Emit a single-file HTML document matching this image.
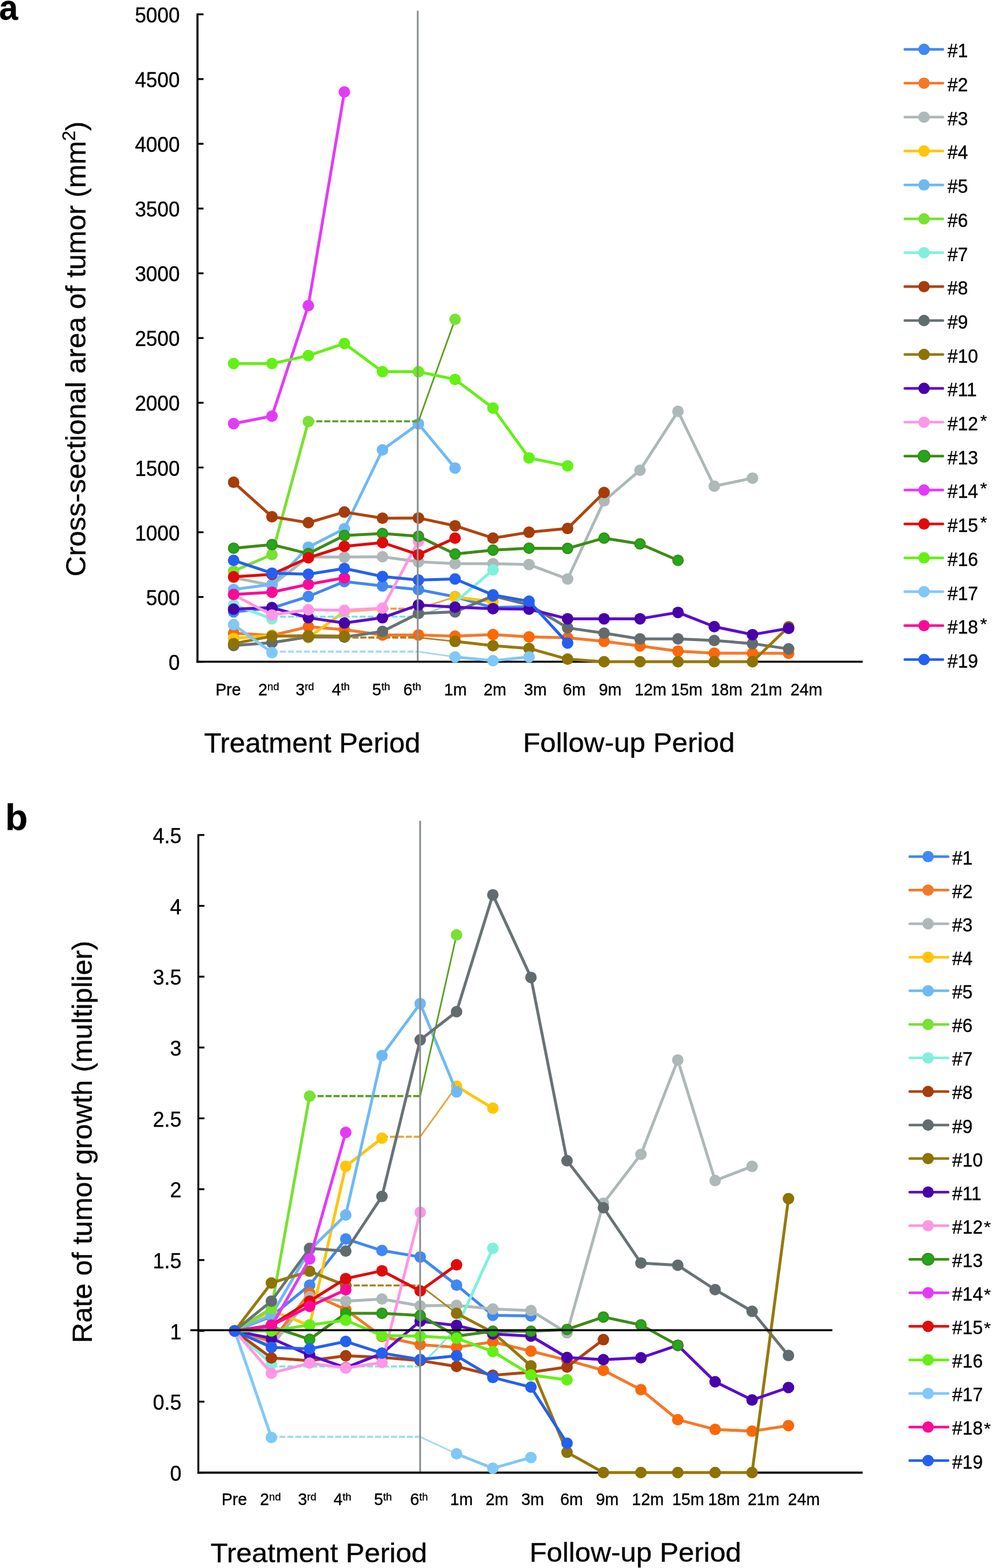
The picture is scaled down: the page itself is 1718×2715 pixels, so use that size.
<!DOCTYPE html><html><head><meta charset="utf-8"><title>Tumor growth charts</title>
<style>html,body{margin:0;padding:0;background:#fff;overflow:hidden;}svg{display:block;}</style></head><body>
<svg width="1718" height="2715" viewBox="0 0 1718 2715" font-family="'Liberation Sans', Arial, Helvetica, sans-serif" fill="#000" stroke-linejoin="round">
<rect width="1718" height="2715" fill="#fff"/>
<text transform="matrix(0.945 0 0 0.994 -1.591 33.806)" font-size="62" font-weight="bold" stroke="#000" stroke-width="0.35">a</text>
<line x1="342" y1="23.2" x2="342" y2="1147.5" stroke="#000" stroke-width="3.5"/>
<line x1="342" y1="1145.8" x2="352.5" y2="1145.8" stroke="#000" stroke-width="3.2"/>
<text transform="matrix(0.997 0 0 1.079 311.297 1159.8)" font-size="35" text-anchor="end" stroke="#000" stroke-width="0.35">0</text>
<line x1="342" y1="1033.7" x2="352.5" y2="1033.7" stroke="#000" stroke-width="3.2"/>
<text transform="matrix(0.997 0 0 1.079 311.297 1047.7)" font-size="35" text-anchor="end" stroke="#000" stroke-width="0.35">500</text>
<line x1="342" y1="921.6" x2="352.5" y2="921.6" stroke="#000" stroke-width="3.2"/>
<text transform="matrix(0.997 0 0 1.079 311.297 935.6)" font-size="35" text-anchor="end" stroke="#000" stroke-width="0.35">1000</text>
<line x1="342" y1="809.5" x2="352.5" y2="809.5" stroke="#000" stroke-width="3.2"/>
<text transform="matrix(0.997 0 0 1.079 311.297 823.5)" font-size="35" text-anchor="end" stroke="#000" stroke-width="0.35">1500</text>
<line x1="342" y1="697.4" x2="352.5" y2="697.4" stroke="#000" stroke-width="3.2"/>
<text transform="matrix(0.997 0 0 1.079 311.297 711.4)" font-size="35" text-anchor="end" stroke="#000" stroke-width="0.35">2000</text>
<line x1="342" y1="585.3" x2="352.5" y2="585.3" stroke="#000" stroke-width="3.2"/>
<text transform="matrix(0.997 0 0 1.079 311.297 599.3)" font-size="35" text-anchor="end" stroke="#000" stroke-width="0.35">2500</text>
<line x1="342" y1="473.2" x2="352.5" y2="473.2" stroke="#000" stroke-width="3.2"/>
<text transform="matrix(0.997 0 0 1.079 311.297 487.2)" font-size="35" text-anchor="end" stroke="#000" stroke-width="0.35">3000</text>
<line x1="342" y1="361.1" x2="352.5" y2="361.1" stroke="#000" stroke-width="3.2"/>
<text transform="matrix(0.997 0 0 1.079 311.297 375.1)" font-size="35" text-anchor="end" stroke="#000" stroke-width="0.35">3500</text>
<line x1="342" y1="249" x2="352.5" y2="249" stroke="#000" stroke-width="3.2"/>
<text transform="matrix(0.997 0 0 1.079 311.297 263)" font-size="35" text-anchor="end" stroke="#000" stroke-width="0.35">4000</text>
<line x1="342" y1="136.9" x2="352.5" y2="136.9" stroke="#000" stroke-width="3.2"/>
<text transform="matrix(0.997 0 0 1.079 311.297 150.9)" font-size="35" text-anchor="end" stroke="#000" stroke-width="0.35">4500</text>
<line x1="342" y1="24.8" x2="352.5" y2="24.8" stroke="#000" stroke-width="3.2"/>
<text transform="matrix(0.997 0 0 1.079 311.297 38.8)" font-size="35" text-anchor="end" stroke="#000" stroke-width="0.35">5000</text>
<line x1="340.3" y1="1145.8" x2="1494" y2="1145.8" stroke="#000" stroke-width="3.5"/>
<g><polyline points="404.6,1059.5 471,1052.8 534,1032.8 596.4,1007 662.4,1014.4 724.7,1020.9 788.1,1033.3 853.8,1052.1 916.2,1050.3" stroke="#4088f2" stroke-width="5.0" fill="none" stroke-linejoin="round"/><circle cx="404.6" cy="1059.5" r="10.0" fill="#4088f2"/><circle cx="471" cy="1052.8" r="10.0" fill="#4088f2"/><circle cx="534" cy="1032.8" r="10.0" fill="#4088f2"/><circle cx="596.4" cy="1007" r="10.0" fill="#4088f2"/><circle cx="662.4" cy="1014.4" r="10.0" fill="#4088f2"/><circle cx="724.7" cy="1020.9" r="10.0" fill="#4088f2"/><circle cx="788.1" cy="1033.3" r="10.0" fill="#4088f2"/><circle cx="853.8" cy="1052.1" r="10.0" fill="#4088f2"/><circle cx="916.2" cy="1050.3" r="10.0" fill="#4088f2"/></g>
<g><polyline points="404.6,1096.3 471,1100.3 534,1085.3 596.4,1090.2 662.4,1099.4 724.7,1099.4 788.1,1101.6 853.8,1098.7 916.2,1102.8 983,1104.3 1046.2,1110.4 1108.4,1118.4 1174.2,1127.4 1237,1131 1303.2,1131 1365.8,1131.2" stroke="#f57828" stroke-width="5.0" fill="none" stroke-linejoin="round"/><circle cx="404.6" cy="1096.3" r="10.0" fill="#fb6808"/><circle cx="471" cy="1100.3" r="10.0" fill="#fb6808"/><circle cx="534" cy="1085.3" r="10.0" fill="#fb6808"/><circle cx="596.4" cy="1090.2" r="10.0" fill="#fb6808"/><circle cx="662.4" cy="1099.4" r="10.0" fill="#fb6808"/><circle cx="724.7" cy="1099.4" r="10.0" fill="#fb6808"/><circle cx="788.1" cy="1101.6" r="10.0" fill="#fb6808"/><circle cx="853.8" cy="1098.7" r="10.0" fill="#fb6808"/><circle cx="916.2" cy="1102.8" r="10.0" fill="#fb6808"/><circle cx="983" cy="1104.3" r="10.0" fill="#fb6808"/><circle cx="1046.2" cy="1110.4" r="10.0" fill="#fb6808"/><circle cx="1108.4" cy="1118.4" r="10.0" fill="#fb6808"/><circle cx="1174.2" cy="1127.4" r="10.0" fill="#fb6808"/><circle cx="1237" cy="1131" r="10.0" fill="#fb6808"/><circle cx="1303.2" cy="1131" r="10.0" fill="#fb6808"/><circle cx="1365.8" cy="1131.2" r="10.0" fill="#fb6808"/></g>
<g><polyline points="404.6,1000.1 471,1013.5 534,964.2 596.4,964.6 662.4,964 724.7,972.7 788.1,975.9 853.8,975.9 916.2,977.6 983,1002.5 1046.2,867.3 1108.4,814.2 1174.2,712.2 1237,841.8 1303.2,827.9" stroke="#aeb8b8" stroke-width="5.0" fill="none" stroke-linejoin="round"/><circle cx="404.6" cy="1000.1" r="10.0" fill="#aeb8b8"/><circle cx="471" cy="1013.5" r="10.0" fill="#aeb8b8"/><circle cx="534" cy="964.2" r="10.0" fill="#aeb8b8"/><circle cx="596.4" cy="964.6" r="10.0" fill="#aeb8b8"/><circle cx="662.4" cy="964" r="10.0" fill="#aeb8b8"/><circle cx="724.7" cy="972.7" r="10.0" fill="#aeb8b8"/><circle cx="788.1" cy="975.9" r="10.0" fill="#aeb8b8"/><circle cx="853.8" cy="975.9" r="10.0" fill="#aeb8b8"/><circle cx="916.2" cy="977.6" r="10.0" fill="#aeb8b8"/><circle cx="983" cy="1002.5" r="10.0" fill="#aeb8b8"/><circle cx="1046.2" cy="867.3" r="10.0" fill="#aeb8b8"/><circle cx="1108.4" cy="814.2" r="10.0" fill="#aeb8b8"/><circle cx="1174.2" cy="712.2" r="10.0" fill="#aeb8b8"/><circle cx="1237" cy="841.8" r="10.0" fill="#aeb8b8"/><circle cx="1303.2" cy="827.9" r="10.0" fill="#aeb8b8"/></g>
<g><line x1="662.4" y1="1053.9" x2="724.7" y2="1053.9" stroke="#f0a030" stroke-width="3.6" stroke-dasharray="10.5 3.3"/><polyline points="724.7,1053.9 788.1,1033.7" stroke="#f0a030" stroke-width="2.8" fill="none"/><polyline points="404.6,1105.4 471,1099.8 534,1104.3 596.4,1058.8 662.4,1053.9" stroke="#ffc50a" stroke-width="5.0" fill="none" stroke-linejoin="round"/><polyline points="788.1,1033.7 853.8,1042" stroke="#ffc50a" stroke-width="5.0" fill="none" stroke-linejoin="round"/><circle cx="404.6" cy="1105.4" r="10.0" fill="#ffc50a"/><circle cx="471" cy="1099.8" r="10.0" fill="#ffc50a"/><circle cx="534" cy="1104.3" r="10.0" fill="#ffc50a"/><circle cx="596.4" cy="1058.8" r="10.0" fill="#ffc50a"/><circle cx="662.4" cy="1053.9" r="10.0" fill="#ffc50a"/><circle cx="788.1" cy="1033.7" r="10.0" fill="#ffc50a"/><circle cx="853.8" cy="1042" r="10.0" fill="#ffc50a"/></g>
<g><polyline points="404.6,1020.7 471,1011.7 534,947.4 596.4,915.5 662.4,779 724.7,733.9 788.1,810.4" stroke="#6eb9f5" stroke-width="5.0" fill="none" stroke-linejoin="round"/><circle cx="404.6" cy="1020.7" r="10.0" fill="#6eb9f5"/><circle cx="471" cy="1011.7" r="10.0" fill="#6eb9f5"/><circle cx="534" cy="947.4" r="10.0" fill="#6eb9f5"/><circle cx="596.4" cy="915.5" r="10.0" fill="#6eb9f5"/><circle cx="662.4" cy="779" r="10.0" fill="#6eb9f5"/><circle cx="724.7" cy="733.9" r="10.0" fill="#6eb9f5"/><circle cx="788.1" cy="810.4" r="10.0" fill="#6eb9f5"/></g>
<g><line x1="534" y1="729.5" x2="724.7" y2="729.5" stroke="#5aa01e" stroke-width="3.6" stroke-dasharray="10.5 3.3"/><polyline points="724.7,729.5 788.1,553" stroke="#5aa01e" stroke-width="2.8" fill="none"/><polyline points="404.6,988.9 471,960.2 534,729.9" stroke="#78e132" stroke-width="5.0" fill="none" stroke-linejoin="round"/><circle cx="404.6" cy="988.9" r="10.0" fill="#78e132"/><circle cx="471" cy="960.2" r="10.0" fill="#78e132"/><circle cx="534" cy="729.9" r="10.0" fill="#78e132"/><circle cx="788.1" cy="553" r="10.0" fill="#78e132"/></g>
<g><line x1="471" y1="1067.8" x2="724.7" y2="1067.8" stroke="#80e6d2" stroke-width="3.6" stroke-dasharray="10.5 3.3"/><polyline points="724.7,1067.8 788.1,1042.9" stroke="#80e6d2" stroke-width="2.8" fill="none"/><polyline points="404.6,1047.2 471,1071.4" stroke="#80f0dc" stroke-width="5.0" fill="none" stroke-linejoin="round"/><polyline points="788.1,1042.9 853.8,986.8" stroke="#80f0dc" stroke-width="5.0" fill="none" stroke-linejoin="round"/><circle cx="404.6" cy="1047.2" r="10.0" fill="#80f0dc"/><circle cx="471" cy="1071.4" r="10.0" fill="#80f0dc"/><circle cx="853.8" cy="986.8" r="10.0" fill="#80f0dc"/></g>
<g><polyline points="404.6,835.1 471,894.7 534,905 596.4,886.6 662.4,897.2 724.7,896.9 788.1,910.4 853.8,931.7 916.2,921.6 983,915.1 1046.2,852.8" stroke="#b0440f" stroke-width="5.0" fill="none" stroke-linejoin="round"/><circle cx="404.6" cy="835.1" r="10.0" fill="#a53c0a"/><circle cx="471" cy="894.7" r="10.0" fill="#a53c0a"/><circle cx="534" cy="905" r="10.0" fill="#a53c0a"/><circle cx="596.4" cy="886.6" r="10.0" fill="#a53c0a"/><circle cx="662.4" cy="897.2" r="10.0" fill="#a53c0a"/><circle cx="724.7" cy="896.9" r="10.0" fill="#a53c0a"/><circle cx="788.1" cy="910.4" r="10.0" fill="#a53c0a"/><circle cx="853.8" cy="931.7" r="10.0" fill="#a53c0a"/><circle cx="916.2" cy="921.6" r="10.0" fill="#a53c0a"/><circle cx="983" cy="915.1" r="10.0" fill="#a53c0a"/><circle cx="1046.2" cy="852.8" r="10.0" fill="#a53c0a"/></g>
<g><polyline points="404.6,1117.8 471,1112.8 534,1102.8 596.4,1103.2 662.4,1093.3 724.7,1062.2 788.1,1059.5 853.8,1031.9 916.2,1047.2 983,1087.1 1046.2,1096.3 1108.4,1106.3 1174.2,1106.3 1237,1109 1303.2,1114.4 1365.8,1123.6" stroke="#697376" stroke-width="5.0" fill="none" stroke-linejoin="round"/><circle cx="404.6" cy="1117.8" r="10.0" fill="#626c6f"/><circle cx="471" cy="1112.8" r="10.0" fill="#626c6f"/><circle cx="534" cy="1102.8" r="10.0" fill="#626c6f"/><circle cx="596.4" cy="1103.2" r="10.0" fill="#626c6f"/><circle cx="662.4" cy="1093.3" r="10.0" fill="#626c6f"/><circle cx="724.7" cy="1062.2" r="10.0" fill="#626c6f"/><circle cx="788.1" cy="1059.5" r="10.0" fill="#626c6f"/><circle cx="853.8" cy="1031.9" r="10.0" fill="#626c6f"/><circle cx="916.2" cy="1047.2" r="10.0" fill="#626c6f"/><circle cx="983" cy="1087.1" r="10.0" fill="#626c6f"/><circle cx="1046.2" cy="1096.3" r="10.0" fill="#626c6f"/><circle cx="1108.4" cy="1106.3" r="10.0" fill="#626c6f"/><circle cx="1174.2" cy="1106.3" r="10.0" fill="#626c6f"/><circle cx="1237" cy="1109" r="10.0" fill="#626c6f"/><circle cx="1303.2" cy="1114.4" r="10.0" fill="#626c6f"/><circle cx="1365.8" cy="1123.6" r="10.0" fill="#626c6f"/></g>
<g><line x1="596.4" y1="1103.9" x2="724.7" y2="1103.9" stroke="#b08020" stroke-width="3.6" stroke-dasharray="10.5 3.3"/><polyline points="724.7,1103.9 788.1,1110.6" stroke="#b08020" stroke-width="2.8" fill="none"/><polyline points="404.6,1114.4 471,1101.6 534,1100.7 596.4,1101.6" stroke="#98780a" stroke-width="5.0" fill="none" stroke-linejoin="round"/><polyline points="788.1,1110.6 853.8,1118 916.2,1122.7 983,1141.3 1046.2,1145.8 1108.4,1145.8 1174.2,1145.8 1237,1145.8 1303.2,1145.8 1365.8,1085.3" stroke="#98780a" stroke-width="5.0" fill="none" stroke-linejoin="round"/><circle cx="404.6" cy="1114.4" r="10.0" fill="#8e7202"/><circle cx="471" cy="1101.6" r="10.0" fill="#8e7202"/><circle cx="534" cy="1100.7" r="10.0" fill="#8e7202"/><circle cx="596.4" cy="1101.6" r="10.0" fill="#8e7202"/><circle cx="788.1" cy="1110.6" r="10.0" fill="#8e7202"/><circle cx="853.8" cy="1118" r="10.0" fill="#8e7202"/><circle cx="916.2" cy="1122.7" r="10.0" fill="#8e7202"/><circle cx="983" cy="1141.3" r="10.0" fill="#8e7202"/><circle cx="1046.2" cy="1145.8" r="10.0" fill="#8e7202"/><circle cx="1108.4" cy="1145.8" r="10.0" fill="#8e7202"/><circle cx="1174.2" cy="1145.8" r="10.0" fill="#8e7202"/><circle cx="1237" cy="1145.8" r="10.0" fill="#8e7202"/><circle cx="1303.2" cy="1145.8" r="10.0" fill="#8e7202"/><circle cx="1365.8" cy="1085.3" r="10.0" fill="#8e7202"/></g>
<g><polyline points="404.6,1054.8 471,1052.1 534,1069.6 596.4,1078.8 662.4,1069.6 724.7,1047.6 788.1,1051.2 853.8,1053.9 916.2,1054.8 983,1071.4 1046.2,1071.4 1108.4,1071.4 1174.2,1060.4 1237,1085 1303.2,1098.9 1365.8,1088" stroke="#5c0ad0" stroke-width="5.0" fill="none" stroke-linejoin="round"/><circle cx="404.6" cy="1054.8" r="10.0" fill="#4800a8"/><circle cx="471" cy="1052.1" r="10.0" fill="#4800a8"/><circle cx="534" cy="1069.6" r="10.0" fill="#4800a8"/><circle cx="596.4" cy="1078.8" r="10.0" fill="#4800a8"/><circle cx="662.4" cy="1069.6" r="10.0" fill="#4800a8"/><circle cx="724.7" cy="1047.6" r="10.0" fill="#4800a8"/><circle cx="788.1" cy="1051.2" r="10.0" fill="#4800a8"/><circle cx="853.8" cy="1053.9" r="10.0" fill="#4800a8"/><circle cx="916.2" cy="1054.8" r="10.0" fill="#4800a8"/><circle cx="983" cy="1071.4" r="10.0" fill="#4800a8"/><circle cx="1046.2" cy="1071.4" r="10.0" fill="#4800a8"/><circle cx="1108.4" cy="1071.4" r="10.0" fill="#4800a8"/><circle cx="1174.2" cy="1060.4" r="10.0" fill="#4800a8"/><circle cx="1237" cy="1085" r="10.0" fill="#4800a8"/><circle cx="1303.2" cy="1098.9" r="10.0" fill="#4800a8"/><circle cx="1365.8" cy="1088" r="10.0" fill="#4800a8"/></g>
<g><polyline points="404.6,1029.9 471,1064.9 534,1055.7 596.4,1056.8 662.4,1053 724.7,937.3" stroke="#ff96e6" stroke-width="5.0" fill="none" stroke-linejoin="round"/><circle cx="404.6" cy="1029.9" r="10.0" fill="#ff96e6"/><circle cx="471" cy="1064.9" r="10.0" fill="#ff96e6"/><circle cx="534" cy="1055.7" r="10.0" fill="#ff96e6"/><circle cx="596.4" cy="1056.8" r="10.0" fill="#ff96e6"/><circle cx="662.4" cy="1053" r="10.0" fill="#ff96e6"/><circle cx="724.7" cy="937.3" r="10.0" fill="#ff96e6"/></g>
<g><polyline points="404.6,949.2 471,943.1 534,958.6 596.4,927.2 662.4,923.8 724.7,928.6 788.1,959.3 853.8,952.5 916.2,949.2 983,949.6 1046.2,931.7 1108.4,941.8 1174.2,970.3" stroke="#3c8c14" stroke-width="5.0" fill="none" stroke-linejoin="round"/><circle cx="404.6" cy="949.2" r="8.8" fill="#22a81c" stroke="#3c8c14" stroke-width="2.4"/><circle cx="471" cy="943.1" r="8.8" fill="#22a81c" stroke="#3c8c14" stroke-width="2.4"/><circle cx="534" cy="958.6" r="8.8" fill="#22a81c" stroke="#3c8c14" stroke-width="2.4"/><circle cx="596.4" cy="927.2" r="8.8" fill="#22a81c" stroke="#3c8c14" stroke-width="2.4"/><circle cx="662.4" cy="923.8" r="8.8" fill="#22a81c" stroke="#3c8c14" stroke-width="2.4"/><circle cx="724.7" cy="928.6" r="8.8" fill="#22a81c" stroke="#3c8c14" stroke-width="2.4"/><circle cx="788.1" cy="959.3" r="8.8" fill="#22a81c" stroke="#3c8c14" stroke-width="2.4"/><circle cx="853.8" cy="952.5" r="8.8" fill="#22a81c" stroke="#3c8c14" stroke-width="2.4"/><circle cx="916.2" cy="949.2" r="8.8" fill="#22a81c" stroke="#3c8c14" stroke-width="2.4"/><circle cx="983" cy="949.6" r="8.8" fill="#22a81c" stroke="#3c8c14" stroke-width="2.4"/><circle cx="1046.2" cy="931.7" r="8.8" fill="#22a81c" stroke="#3c8c14" stroke-width="2.4"/><circle cx="1108.4" cy="941.8" r="8.8" fill="#22a81c" stroke="#3c8c14" stroke-width="2.4"/><circle cx="1174.2" cy="970.3" r="8.8" fill="#22a81c" stroke="#3c8c14" stroke-width="2.4"/></g>
<g><polyline points="404.6,733.5 471,720.5 534,529.2 596.4,159.3" stroke="#e43af8" stroke-width="5.0" fill="none" stroke-linejoin="round"/><circle cx="404.6" cy="733.5" r="10.0" fill="#e43af8"/><circle cx="471" cy="720.5" r="10.0" fill="#e43af8"/><circle cx="534" cy="529.2" r="10.0" fill="#e43af8"/><circle cx="596.4" cy="159.3" r="10.0" fill="#e43af8"/></g>
<g><polyline points="404.6,998.7 471,994.5 534,965.8 596.4,946 662.4,939.5 724.7,960.4 788.1,931.7" stroke="#e00a0a" stroke-width="5.0" fill="none" stroke-linejoin="round"/><circle cx="404.6" cy="998.7" r="10.0" fill="#e00a0a"/><circle cx="471" cy="994.5" r="10.0" fill="#e00a0a"/><circle cx="534" cy="965.8" r="10.0" fill="#e00a0a"/><circle cx="596.4" cy="946" r="10.0" fill="#e00a0a"/><circle cx="662.4" cy="939.5" r="10.0" fill="#e00a0a"/><circle cx="724.7" cy="960.4" r="10.0" fill="#e00a0a"/><circle cx="788.1" cy="931.7" r="10.0" fill="#e00a0a"/></g>
<g><polyline points="404.6,629.5 471,629.5 534,615.8 596.4,594.7 662.4,643.6 724.7,643.6 788.1,657 853.8,706.6 916.2,792.9 983,806.8" stroke="#64f014" stroke-width="5.0" fill="none" stroke-linejoin="round"/><circle cx="404.6" cy="629.5" r="10.0" fill="#64f014"/><circle cx="471" cy="629.5" r="10.0" fill="#64f014"/><circle cx="534" cy="615.8" r="10.0" fill="#64f014"/><circle cx="596.4" cy="594.7" r="10.0" fill="#64f014"/><circle cx="662.4" cy="643.6" r="10.0" fill="#64f014"/><circle cx="724.7" cy="643.6" r="10.0" fill="#64f014"/><circle cx="788.1" cy="657" r="10.0" fill="#64f014"/><circle cx="853.8" cy="706.6" r="10.0" fill="#64f014"/><circle cx="916.2" cy="792.9" r="10.0" fill="#64f014"/><circle cx="983" cy="806.8" r="10.0" fill="#64f014"/></g>
<g><line x1="471" y1="1128.3" x2="724.7" y2="1128.3" stroke="#a8d8f0" stroke-width="3.6" stroke-dasharray="10.5 3.3"/><polyline points="724.7,1128.3 788.1,1137.5" stroke="#a8d8f0" stroke-width="2.8" fill="none"/><polyline points="404.6,1081.5 471,1130.1" stroke="#80c8f8" stroke-width="5.0" fill="none" stroke-linejoin="round"/><polyline points="788.1,1137.5 853.8,1144 916.2,1137.5" stroke="#80c8f8" stroke-width="5.0" fill="none" stroke-linejoin="round"/><circle cx="404.6" cy="1081.5" r="10.0" fill="#80c8f8"/><circle cx="471" cy="1130.1" r="10.0" fill="#80c8f8"/><circle cx="788.1" cy="1137.5" r="10.0" fill="#80c8f8"/><circle cx="853.8" cy="1144" r="10.0" fill="#80c8f8"/><circle cx="916.2" cy="1137.5" r="10.0" fill="#80c8f8"/></g>
<g><polyline points="404.6,1029.2 471,1025.4 534,1011.7 596.4,1000.5" stroke="#fa0a98" stroke-width="5.0" fill="none" stroke-linejoin="round"/><circle cx="404.6" cy="1029.2" r="10.0" fill="#fa0a98"/><circle cx="471" cy="1025.4" r="10.0" fill="#fa0a98"/><circle cx="534" cy="1011.7" r="10.0" fill="#fa0a98"/><circle cx="596.4" cy="1000.5" r="10.0" fill="#fa0a98"/></g>
<g><polyline points="404.6,970.3 471,992.4 534,994.2 596.4,984.2 662.4,998.3 724.7,1004.3 788.1,1002.5 853.8,1030.1 916.2,1041.1 983,1113.5" stroke="#2360f0" stroke-width="5.0" fill="none" stroke-linejoin="round"/><circle cx="404.6" cy="970.3" r="10.0" fill="#2360f0"/><circle cx="471" cy="992.4" r="10.0" fill="#2360f0"/><circle cx="534" cy="994.2" r="10.0" fill="#2360f0"/><circle cx="596.4" cy="984.2" r="10.0" fill="#2360f0"/><circle cx="662.4" cy="998.3" r="10.0" fill="#2360f0"/><circle cx="724.7" cy="1004.3" r="10.0" fill="#2360f0"/><circle cx="788.1" cy="1002.5" r="10.0" fill="#2360f0"/><circle cx="853.8" cy="1030.1" r="10.0" fill="#2360f0"/><circle cx="916.2" cy="1041.1" r="10.0" fill="#2360f0"/><circle cx="983" cy="1113.5" r="10.0" fill="#2360f0"/></g>
<line x1="723.4" y1="18.5" x2="723.4" y2="1144" stroke="#8e9393" stroke-width="3.1"/>
<text transform="matrix(1.015 0 0 1.032 373.17 1203.6)" font-size="28" stroke="#000" stroke-width="0.35">Pre</text>
<text transform="matrix(1.015 0 0 1.032 447.185 1203.6)" font-size="28" stroke="#000" stroke-width="0.35">2<tspan font-size="18" dy="-8">nd</tspan></text>
<text transform="matrix(1.015 0 0 1.032 511.985 1203.6)" font-size="28" stroke="#000" stroke-width="0.35">3<tspan font-size="18" dy="-8">rd</tspan></text>
<text transform="matrix(1.015 0 0 1.032 574.685 1203.6)" font-size="28" stroke="#000" stroke-width="0.35">4<tspan font-size="18" dy="-8">th</tspan></text>
<text transform="matrix(1.015 0 0 1.032 644.585 1203.6)" font-size="28" stroke="#000" stroke-width="0.35">5<tspan font-size="18" dy="-8">th</tspan></text>
<text transform="matrix(1.015 0 0 1.032 698.385 1203.6)" font-size="28" stroke="#000" stroke-width="0.35">6<tspan font-size="18" dy="-8">th</tspan></text>
<text transform="matrix(1.015 0 0 1.032 768.97 1203.6)" font-size="28" stroke="#000" stroke-width="0.35">1m</text>
<text transform="matrix(1.015 0 0 1.032 837.385 1203.6)" font-size="28" stroke="#000" stroke-width="0.35">2m</text>
<text transform="matrix(1.015 0 0 1.032 907.485 1203.6)" font-size="28" stroke="#000" stroke-width="0.35">3m</text>
<text transform="matrix(1.015 0 0 1.032 974.685 1203.6)" font-size="28" stroke="#000" stroke-width="0.35">6m</text>
<text transform="matrix(1.015 0 0 1.032 1036.885 1203.6)" font-size="28" stroke="#000" stroke-width="0.35">9m</text>
<text transform="matrix(1.015 0 0 1.032 1098.97 1203.6)" font-size="28" stroke="#000" stroke-width="0.35">12m</text>
<text transform="matrix(1.015 0 0 1.032 1161.47 1203.6)" font-size="28" stroke="#000" stroke-width="0.35">15m</text>
<text transform="matrix(1.015 0 0 1.032 1230.77 1203.6)" font-size="28" stroke="#000" stroke-width="0.35">18m</text>
<text transform="matrix(1.015 0 0 1.032 1299.485 1203.6)" font-size="28" stroke="#000" stroke-width="0.35">21m</text>
<text transform="matrix(1.015 0 0 1.032 1368.985 1203.6)" font-size="28" stroke="#000" stroke-width="0.35">24m</text>
<text transform="matrix(1.016 0 0 0.997 353.384 1303.3)" font-size="48" stroke="#000" stroke-width="0.35">Treatment Period</text>
<text transform="matrix(1.019 0 0 0.962 905.625 1302.078)" font-size="48" stroke="#000" stroke-width="0.35">Follow-up Period</text>
<text transform="matrix(0 -1.021 1.02 0 147.7 998.142)" font-size="48" stroke="#000" stroke-width="0.35">Cross-sectional area of tumor (mm<tspan font-size="31" dy="-17">2</tspan><tspan dy="17">)</tspan></text>
<line x1="1567" y1="85.4" x2="1633" y2="85.4" stroke="#4088f2" stroke-width="4.5" stroke-linecap="round"/>
<circle cx="1600.3" cy="85.4" r="9.9" fill="#4088f2"/>
<text transform="matrix(1.058 0 0 1.125 1641 99.3)" font-size="30" stroke="#000" stroke-width="0.35">#1</text>
<line x1="1567" y1="144.1" x2="1633" y2="144.1" stroke="#f57828" stroke-width="4.5" stroke-linecap="round"/>
<circle cx="1600.3" cy="144.1" r="9.9" fill="#f57828"/>
<text transform="matrix(1.058 0 0 1.125 1641 158)" font-size="30" stroke="#000" stroke-width="0.35">#2</text>
<line x1="1567" y1="202.8" x2="1633" y2="202.8" stroke="#aeb8b8" stroke-width="4.5" stroke-linecap="round"/>
<circle cx="1600.3" cy="202.8" r="9.9" fill="#aeb8b8"/>
<text transform="matrix(1.058 0 0 1.125 1641 216.7)" font-size="30" stroke="#000" stroke-width="0.35">#3</text>
<line x1="1567" y1="261.5" x2="1633" y2="261.5" stroke="#ffc50a" stroke-width="4.5" stroke-linecap="round"/>
<circle cx="1600.3" cy="261.5" r="9.9" fill="#ffc50a"/>
<text transform="matrix(1.058 0 0 1.125 1641 275.4)" font-size="30" stroke="#000" stroke-width="0.35">#4</text>
<line x1="1567" y1="320.2" x2="1633" y2="320.2" stroke="#6eb9f5" stroke-width="4.5" stroke-linecap="round"/>
<circle cx="1600.3" cy="320.2" r="9.9" fill="#6eb9f5"/>
<text transform="matrix(1.058 0 0 1.125 1641 334.1)" font-size="30" stroke="#000" stroke-width="0.35">#5</text>
<line x1="1567" y1="378.9" x2="1633" y2="378.9" stroke="#78e132" stroke-width="4.5" stroke-linecap="round"/>
<circle cx="1600.3" cy="378.9" r="9.9" fill="#78e132"/>
<text transform="matrix(1.058 0 0 1.125 1641 392.8)" font-size="30" stroke="#000" stroke-width="0.35">#6</text>
<line x1="1567" y1="437.6" x2="1633" y2="437.6" stroke="#80f0dc" stroke-width="4.5" stroke-linecap="round"/>
<circle cx="1600.3" cy="437.6" r="9.9" fill="#80f0dc"/>
<text transform="matrix(1.058 0 0 1.125 1641 451.5)" font-size="30" stroke="#000" stroke-width="0.35">#7</text>
<line x1="1567" y1="496.3" x2="1633" y2="496.3" stroke="#b0440f" stroke-width="4.5" stroke-linecap="round"/>
<circle cx="1600.3" cy="496.3" r="9.9" fill="#a53c0a"/>
<text transform="matrix(1.058 0 0 1.125 1641 510.2)" font-size="30" stroke="#000" stroke-width="0.35">#8</text>
<line x1="1567" y1="555" x2="1633" y2="555" stroke="#697376" stroke-width="4.5" stroke-linecap="round"/>
<circle cx="1600.3" cy="555" r="9.9" fill="#626c6f"/>
<text transform="matrix(1.058 0 0 1.125 1641 568.9)" font-size="30" stroke="#000" stroke-width="0.35">#9</text>
<line x1="1567" y1="613.7" x2="1633" y2="613.7" stroke="#98780a" stroke-width="4.5" stroke-linecap="round"/>
<circle cx="1600.3" cy="613.7" r="9.9" fill="#8e7202"/>
<text transform="matrix(1.058 0 0 1.125 1641 627.6)" font-size="30" stroke="#000" stroke-width="0.35">#10</text>
<line x1="1567" y1="672.4" x2="1633" y2="672.4" stroke="#5c0ad0" stroke-width="4.5" stroke-linecap="round"/>
<circle cx="1600.3" cy="672.4" r="9.9" fill="#4800a8"/>
<text transform="matrix(1.058 0 0 1.125 1641 686.3)" font-size="30" stroke="#000" stroke-width="0.35">#11</text>
<line x1="1567" y1="731.1" x2="1633" y2="731.1" stroke="#ff96e6" stroke-width="4.5" stroke-linecap="round"/>
<circle cx="1600.3" cy="731.1" r="9.9" fill="#ff96e6"/>
<text transform="matrix(1.058 0 0 1.125 1641 745)" font-size="30" stroke="#000" stroke-width="0.35">#12</text>
<text transform="matrix(1.02 0 0 0.95 1697.38 737.5)" font-size="30" stroke="#000" stroke-width="0.35">*</text>
<line x1="1567" y1="789.8" x2="1633" y2="789.8" stroke="#3c8c14" stroke-width="4.5" stroke-linecap="round"/>
<circle cx="1600.3" cy="789.8" r="9.9" fill="#22a81c" stroke="#3c8c14" stroke-width="2.5"/>
<text transform="matrix(1.058 0 0 1.125 1641 803.7)" font-size="30" stroke="#000" stroke-width="0.35">#13</text>
<line x1="1567" y1="848.5" x2="1633" y2="848.5" stroke="#e43af8" stroke-width="4.5" stroke-linecap="round"/>
<circle cx="1600.3" cy="848.5" r="9.9" fill="#e43af8"/>
<text transform="matrix(1.058 0 0 1.125 1641 862.4)" font-size="30" stroke="#000" stroke-width="0.35">#14</text>
<text transform="matrix(1.02 0 0 0.95 1697.38 854.9)" font-size="30" stroke="#000" stroke-width="0.35">*</text>
<line x1="1567" y1="907.2" x2="1633" y2="907.2" stroke="#e00a0a" stroke-width="4.5" stroke-linecap="round"/>
<circle cx="1600.3" cy="907.2" r="9.9" fill="#e00a0a"/>
<text transform="matrix(1.058 0 0 1.125 1641 921.1)" font-size="30" stroke="#000" stroke-width="0.35">#15</text>
<text transform="matrix(1.02 0 0 0.95 1697.38 913.6)" font-size="30" stroke="#000" stroke-width="0.35">*</text>
<line x1="1567" y1="965.9" x2="1633" y2="965.9" stroke="#64f014" stroke-width="4.5" stroke-linecap="round"/>
<circle cx="1600.3" cy="965.9" r="9.9" fill="#64f014"/>
<text transform="matrix(1.058 0 0 1.125 1641 979.8)" font-size="30" stroke="#000" stroke-width="0.35">#16</text>
<line x1="1567" y1="1024.6" x2="1633" y2="1024.6" stroke="#80c8f8" stroke-width="4.5" stroke-linecap="round"/>
<circle cx="1600.3" cy="1024.6" r="9.9" fill="#80c8f8"/>
<text transform="matrix(1.058 0 0 1.125 1641 1038.5)" font-size="30" stroke="#000" stroke-width="0.35">#17</text>
<line x1="1567" y1="1083.3" x2="1633" y2="1083.3" stroke="#fa0a98" stroke-width="4.5" stroke-linecap="round"/>
<circle cx="1600.3" cy="1083.3" r="9.9" fill="#fa0a98"/>
<text transform="matrix(1.058 0 0 1.125 1641 1097.2)" font-size="30" stroke="#000" stroke-width="0.35">#18</text>
<text transform="matrix(1.02 0 0 0.95 1697.38 1089.7)" font-size="30" stroke="#000" stroke-width="0.35">*</text>
<line x1="1567" y1="1142" x2="1633" y2="1142" stroke="#2360f0" stroke-width="4.5" stroke-linecap="round"/>
<circle cx="1600.3" cy="1142" r="9.9" fill="#2360f0"/>
<text transform="matrix(1.058 0 0 1.125 1641 1155.9)" font-size="30" stroke="#000" stroke-width="0.35">#19</text>
<text transform="matrix(1.029 0 0 1.024 8.884 1436.876)" font-size="62" font-weight="bold" stroke="#000" stroke-width="0.35">b</text>
<line x1="343.5" y1="1444.5" x2="343.5" y2="2551.5" stroke="#000" stroke-width="3.3"/>
<line x1="343.5" y1="2549.7" x2="354" y2="2549.7" stroke="#000" stroke-width="3.2"/>
<text transform="matrix(1.017 0 0 1.05 314.235 2563.9)" font-size="35" text-anchor="end" stroke="#000" stroke-width="0.35">0</text>
<line x1="343.5" y1="2427" x2="354" y2="2427" stroke="#000" stroke-width="3.2"/>
<text transform="matrix(1.017 0 0 1.05 314.235 2441.25)" font-size="35" text-anchor="end" stroke="#000" stroke-width="0.35">0.5</text>
<line x1="343.5" y1="2304.4" x2="354" y2="2304.4" stroke="#000" stroke-width="3.2"/>
<text transform="matrix(1.017 0 0 1.05 314.235 2318.6)" font-size="35" text-anchor="end" stroke="#000" stroke-width="0.35">1</text>
<line x1="343.5" y1="2181.8" x2="354" y2="2181.8" stroke="#000" stroke-width="3.2"/>
<text transform="matrix(1.017 0 0 1.05 314.235 2195.95)" font-size="35" text-anchor="end" stroke="#000" stroke-width="0.35">1.5</text>
<line x1="343.5" y1="2059.1" x2="354" y2="2059.1" stroke="#000" stroke-width="3.2"/>
<text transform="matrix(1.017 0 0 1.05 314.235 2073.3)" font-size="35" text-anchor="end" stroke="#000" stroke-width="0.35">2</text>
<line x1="343.5" y1="1936.4" x2="354" y2="1936.4" stroke="#000" stroke-width="3.2"/>
<text transform="matrix(1.017 0 0 1.05 314.235 1950.65)" font-size="35" text-anchor="end" stroke="#000" stroke-width="0.35">2.5</text>
<line x1="343.5" y1="1813.8" x2="354" y2="1813.8" stroke="#000" stroke-width="3.2"/>
<text transform="matrix(1.017 0 0 1.05 314.235 1828)" font-size="35" text-anchor="end" stroke="#000" stroke-width="0.35">3</text>
<line x1="343.5" y1="1691.1" x2="354" y2="1691.1" stroke="#000" stroke-width="3.2"/>
<text transform="matrix(1.017 0 0 1.05 314.235 1705.35)" font-size="35" text-anchor="end" stroke="#000" stroke-width="0.35">3.5</text>
<line x1="343.5" y1="1568.5" x2="354" y2="1568.5" stroke="#000" stroke-width="3.2"/>
<text transform="matrix(1.017 0 0 1.05 314.235 1582.7)" font-size="35" text-anchor="end" stroke="#000" stroke-width="0.35">4</text>
<line x1="343.5" y1="1445.8" x2="354" y2="1445.8" stroke="#000" stroke-width="3.2"/>
<text transform="matrix(1.017 0 0 1.05 314.235 1460.05)" font-size="35" text-anchor="end" stroke="#000" stroke-width="0.35">4.5</text>
<line x1="341.8" y1="2549.9" x2="1494" y2="2549.9" stroke="#000" stroke-width="3.7"/>
<g><polyline points="406.5,2304.4 470,2279.4 536.2,2225.2 598.8,2145.2 661.5,2165.3 727.7,2176.4 790.7,2225.2 853.5,2277.4 919.5,2278.4" stroke="#4088f2" stroke-width="5.0" fill="none" stroke-linejoin="round"/><circle cx="406.5" cy="2304.4" r="10.0" fill="#4088f2"/><circle cx="470" cy="2279.4" r="10.0" fill="#4088f2"/><circle cx="536.2" cy="2225.2" r="10.0" fill="#4088f2"/><circle cx="598.8" cy="2145.2" r="10.0" fill="#4088f2"/><circle cx="661.5" cy="2165.3" r="10.0" fill="#4088f2"/><circle cx="727.7" cy="2176.4" r="10.0" fill="#4088f2"/><circle cx="790.7" cy="2225.2" r="10.0" fill="#4088f2"/><circle cx="853.5" cy="2277.4" r="10.0" fill="#4088f2"/><circle cx="919.5" cy="2278.4" r="10.0" fill="#4088f2"/></g>
<g><polyline points="406.5,2304.4 470,2322.8 536.2,2238.9 598.8,2267.6 661.5,2314.2 727.7,2328.2 790.7,2332.9 853.5,2323.5 919.5,2339.5 982,2355.2 1045,2372.8 1110,2406.2 1173.8,2458.2 1238.5,2475.1 1302.5,2478.1 1365.5,2468.5" stroke="#f57828" stroke-width="5.0" fill="none" stroke-linejoin="round"/><circle cx="406.5" cy="2304.4" r="10.0" fill="#fb6808"/><circle cx="470" cy="2322.8" r="10.0" fill="#fb6808"/><circle cx="536.2" cy="2238.9" r="10.0" fill="#fb6808"/><circle cx="598.8" cy="2267.6" r="10.0" fill="#fb6808"/><circle cx="661.5" cy="2314.2" r="10.0" fill="#fb6808"/><circle cx="727.7" cy="2328.2" r="10.0" fill="#fb6808"/><circle cx="790.7" cy="2332.9" r="10.0" fill="#fb6808"/><circle cx="853.5" cy="2323.5" r="10.0" fill="#fb6808"/><circle cx="919.5" cy="2339.5" r="10.0" fill="#fb6808"/><circle cx="982" cy="2355.2" r="10.0" fill="#fb6808"/><circle cx="1045" cy="2372.8" r="10.0" fill="#fb6808"/><circle cx="1110" cy="2406.2" r="10.0" fill="#fb6808"/><circle cx="1173.8" cy="2458.2" r="10.0" fill="#fb6808"/><circle cx="1238.5" cy="2475.1" r="10.0" fill="#fb6808"/><circle cx="1302.5" cy="2478.1" r="10.0" fill="#fb6808"/><circle cx="1365.5" cy="2468.5" r="10.0" fill="#fb6808"/></g>
<g><polyline points="406.5,2304.4 470,2331.4 536.2,2245.5 598.8,2252.9 661.5,2249.2 727.7,2261 790.7,2260.2 853.5,2266.6 919.5,2269.3 982,2307.8 1045,2083.4 1110,1998.8 1173.8,1835.4 1238.5,2044.1 1302.5,2019.6" stroke="#aeb8b8" stroke-width="5.0" fill="none" stroke-linejoin="round"/><circle cx="406.5" cy="2304.4" r="10.0" fill="#aeb8b8"/><circle cx="470" cy="2331.4" r="10.0" fill="#aeb8b8"/><circle cx="536.2" cy="2245.5" r="10.0" fill="#aeb8b8"/><circle cx="598.8" cy="2252.9" r="10.0" fill="#aeb8b8"/><circle cx="661.5" cy="2249.2" r="10.0" fill="#aeb8b8"/><circle cx="727.7" cy="2261" r="10.0" fill="#aeb8b8"/><circle cx="790.7" cy="2260.2" r="10.0" fill="#aeb8b8"/><circle cx="853.5" cy="2266.6" r="10.0" fill="#aeb8b8"/><circle cx="919.5" cy="2269.3" r="10.0" fill="#aeb8b8"/><circle cx="982" cy="2307.8" r="10.0" fill="#aeb8b8"/><circle cx="1045" cy="2083.4" r="10.0" fill="#aeb8b8"/><circle cx="1110" cy="1998.8" r="10.0" fill="#aeb8b8"/><circle cx="1173.8" cy="1835.4" r="10.0" fill="#aeb8b8"/><circle cx="1238.5" cy="2044.1" r="10.0" fill="#aeb8b8"/><circle cx="1302.5" cy="2019.6" r="10.0" fill="#aeb8b8"/></g>
<g><line x1="661.5" y1="1968.3" x2="727.7" y2="1968.3" stroke="#f0a030" stroke-width="3.6" stroke-dasharray="10.5 3.3"/><polyline points="727.7,1968.3 790.7,1880.8" stroke="#f0a030" stroke-width="2.8" fill="none"/><polyline points="406.5,2304.4 470,2269.3 536.2,2295.1 598.8,2019.4 661.5,1970.8" stroke="#ffc50a" stroke-width="5.0" fill="none" stroke-linejoin="round"/><polyline points="790.7,1880.8 853.5,1918.8" stroke="#ffc50a" stroke-width="5.0" fill="none" stroke-linejoin="round"/><circle cx="406.5" cy="2304.4" r="10.0" fill="#ffc50a"/><circle cx="470" cy="2269.3" r="10.0" fill="#ffc50a"/><circle cx="536.2" cy="2295.1" r="10.0" fill="#ffc50a"/><circle cx="598.8" cy="2019.4" r="10.0" fill="#ffc50a"/><circle cx="661.5" cy="1970.8" r="10.0" fill="#ffc50a"/><circle cx="790.7" cy="1880.8" r="10.0" fill="#ffc50a"/><circle cx="853.5" cy="1918.8" r="10.0" fill="#ffc50a"/></g>
<g><polyline points="406.5,2304.4 470,2277.4 536.2,2164.6 598.8,2103.7 661.5,1827.8 727.7,1737.8 790.7,1890.6" stroke="#6eb9f5" stroke-width="5.0" fill="none" stroke-linejoin="round"/><circle cx="406.5" cy="2304.4" r="10.0" fill="#6eb9f5"/><circle cx="470" cy="2277.4" r="10.0" fill="#6eb9f5"/><circle cx="536.2" cy="2164.6" r="10.0" fill="#6eb9f5"/><circle cx="598.8" cy="2103.7" r="10.0" fill="#6eb9f5"/><circle cx="661.5" cy="1827.8" r="10.0" fill="#6eb9f5"/><circle cx="727.7" cy="1737.8" r="10.0" fill="#6eb9f5"/><circle cx="790.7" cy="1890.6" r="10.0" fill="#6eb9f5"/></g>
<g><line x1="536.2" y1="1897.9" x2="727.7" y2="1897.9" stroke="#5aa01e" stroke-width="3.6" stroke-dasharray="10.5 3.3"/><polyline points="727.7,1897.9 790.7,1618.8" stroke="#5aa01e" stroke-width="2.8" fill="none"/><polyline points="406.5,2304.4 470,2265.6 536.2,1897.9" stroke="#78e132" stroke-width="5.0" fill="none" stroke-linejoin="round"/><circle cx="406.5" cy="2304.4" r="10.0" fill="#78e132"/><circle cx="470" cy="2265.6" r="10.0" fill="#78e132"/><circle cx="536.2" cy="1897.9" r="10.0" fill="#78e132"/><circle cx="790.7" cy="1618.8" r="10.0" fill="#78e132"/></g>
<g><line x1="470" y1="2366" x2="727.7" y2="2366" stroke="#80e6d2" stroke-width="3.6" stroke-dasharray="10.5 3.3"/><polyline points="727.7,2366 790.7,2299.2" stroke="#80e6d2" stroke-width="2.8" fill="none"/><polyline points="406.5,2304.4 470,2361.3" stroke="#80f0dc" stroke-width="5.0" fill="none" stroke-linejoin="round"/><polyline points="790.7,2299.2 853.5,2161.6" stroke="#80f0dc" stroke-width="5.0" fill="none" stroke-linejoin="round"/><circle cx="406.5" cy="2304.4" r="10.0" fill="#80f0dc"/><circle cx="470" cy="2361.3" r="10.0" fill="#80f0dc"/><circle cx="853.5" cy="2161.6" r="10.0" fill="#80f0dc"/></g>
<g><polyline points="406.5,2304.4 470,2351.3 536.2,2355.9 598.8,2347.6 661.5,2350.3 727.7,2355.9 790.7,2366 853.5,2381.2 919.5,2376 982,2367 1045,2319.6" stroke="#b0440f" stroke-width="5.0" fill="none" stroke-linejoin="round"/><circle cx="406.5" cy="2304.4" r="10.0" fill="#a53c0a"/><circle cx="470" cy="2351.3" r="10.0" fill="#a53c0a"/><circle cx="536.2" cy="2355.9" r="10.0" fill="#a53c0a"/><circle cx="598.8" cy="2347.6" r="10.0" fill="#a53c0a"/><circle cx="661.5" cy="2350.3" r="10.0" fill="#a53c0a"/><circle cx="727.7" cy="2355.9" r="10.0" fill="#a53c0a"/><circle cx="790.7" cy="2366" r="10.0" fill="#a53c0a"/><circle cx="853.5" cy="2381.2" r="10.0" fill="#a53c0a"/><circle cx="919.5" cy="2376" r="10.0" fill="#a53c0a"/><circle cx="982" cy="2367" r="10.0" fill="#a53c0a"/><circle cx="1045" cy="2319.6" r="10.0" fill="#a53c0a"/></g>
<g><polyline points="406.5,2304.4 470,2252.9 536.2,2161.6 598.8,2166.3 661.5,2071.6 727.7,1800.6 790.7,1751.7 853.5,1549.4 919.5,1692.4 982,2009.8 1045,2091.2 1110,2186.9 1173.8,2190.8 1238.5,2233 1302.5,2270.5 1365.5,2347.1" stroke="#697376" stroke-width="5.0" fill="none" stroke-linejoin="round"/><circle cx="406.5" cy="2304.4" r="10.0" fill="#626c6f"/><circle cx="470" cy="2252.9" r="10.0" fill="#626c6f"/><circle cx="536.2" cy="2161.6" r="10.0" fill="#626c6f"/><circle cx="598.8" cy="2166.3" r="10.0" fill="#626c6f"/><circle cx="661.5" cy="2071.6" r="10.0" fill="#626c6f"/><circle cx="727.7" cy="1800.6" r="10.0" fill="#626c6f"/><circle cx="790.7" cy="1751.7" r="10.0" fill="#626c6f"/><circle cx="853.5" cy="1549.4" r="10.0" fill="#626c6f"/><circle cx="919.5" cy="1692.4" r="10.0" fill="#626c6f"/><circle cx="982" cy="2009.8" r="10.0" fill="#626c6f"/><circle cx="1045" cy="2091.2" r="10.0" fill="#626c6f"/><circle cx="1110" cy="2186.9" r="10.0" fill="#626c6f"/><circle cx="1173.8" cy="2190.8" r="10.0" fill="#626c6f"/><circle cx="1238.5" cy="2233" r="10.0" fill="#626c6f"/><circle cx="1302.5" cy="2270.5" r="10.0" fill="#626c6f"/><circle cx="1365.5" cy="2347.1" r="10.0" fill="#626c6f"/></g>
<g><line x1="598.8" y1="2225.7" x2="727.7" y2="2225.7" stroke="#b08020" stroke-width="3.6" stroke-dasharray="10.5 3.3"/><polyline points="727.7,2225.7 790.7,2274" stroke="#b08020" stroke-width="2.8" fill="none"/><polyline points="406.5,2304.4 470,2221.5 536.2,2201.1 598.8,2225.9" stroke="#98780a" stroke-width="5.0" fill="none" stroke-linejoin="round"/><polyline points="790.7,2274 853.5,2306.9 919.5,2365 982,2514.6 1045,2549.7 1110,2549.7 1173.8,2549.7 1238.5,2549.7 1302.5,2549.7 1365.5,2075.5" stroke="#98780a" stroke-width="5.0" fill="none" stroke-linejoin="round"/><circle cx="406.5" cy="2304.4" r="10.0" fill="#8e7202"/><circle cx="470" cy="2221.5" r="10.0" fill="#8e7202"/><circle cx="536.2" cy="2201.1" r="10.0" fill="#8e7202"/><circle cx="598.8" cy="2225.9" r="10.0" fill="#8e7202"/><circle cx="790.7" cy="2274" r="10.0" fill="#8e7202"/><circle cx="853.5" cy="2306.9" r="10.0" fill="#8e7202"/><circle cx="919.5" cy="2365" r="10.0" fill="#8e7202"/><circle cx="982" cy="2514.6" r="10.0" fill="#8e7202"/><circle cx="1045" cy="2549.7" r="10.0" fill="#8e7202"/><circle cx="1110" cy="2549.7" r="10.0" fill="#8e7202"/><circle cx="1173.8" cy="2549.7" r="10.0" fill="#8e7202"/><circle cx="1238.5" cy="2549.7" r="10.0" fill="#8e7202"/><circle cx="1302.5" cy="2549.7" r="10.0" fill="#8e7202"/><circle cx="1365.5" cy="2075.5" r="10.0" fill="#8e7202"/></g>
<g><polyline points="406.5,2304.4 470,2317.2 536.2,2346.6 598.8,2368.2 661.5,2343.6 727.7,2287.7 790.7,2295.1 853.5,2309.8 919.5,2313.5 982,2350.5 1045,2354.2 1110,2351 1173.8,2329.4 1238.5,2392.5 1302.5,2424.1 1365.5,2402.5" stroke="#5c0ad0" stroke-width="5.0" fill="none" stroke-linejoin="round"/><circle cx="406.5" cy="2304.4" r="10.0" fill="#4800a8"/><circle cx="470" cy="2317.2" r="10.0" fill="#4800a8"/><circle cx="536.2" cy="2346.6" r="10.0" fill="#4800a8"/><circle cx="598.8" cy="2368.2" r="10.0" fill="#4800a8"/><circle cx="661.5" cy="2343.6" r="10.0" fill="#4800a8"/><circle cx="727.7" cy="2287.7" r="10.0" fill="#4800a8"/><circle cx="790.7" cy="2295.1" r="10.0" fill="#4800a8"/><circle cx="853.5" cy="2309.8" r="10.0" fill="#4800a8"/><circle cx="919.5" cy="2313.5" r="10.0" fill="#4800a8"/><circle cx="982" cy="2350.5" r="10.0" fill="#4800a8"/><circle cx="1045" cy="2354.2" r="10.0" fill="#4800a8"/><circle cx="1110" cy="2351" r="10.0" fill="#4800a8"/><circle cx="1173.8" cy="2329.4" r="10.0" fill="#4800a8"/><circle cx="1238.5" cy="2392.5" r="10.0" fill="#4800a8"/><circle cx="1302.5" cy="2424.1" r="10.0" fill="#4800a8"/><circle cx="1365.5" cy="2402.5" r="10.0" fill="#4800a8"/></g>
<g><polyline points="406.5,2304.4 470,2377.7 536.2,2360.3 598.8,2368.7 661.5,2359.3 727.7,2099.1" stroke="#ff96e6" stroke-width="5.0" fill="none" stroke-linejoin="round"/><circle cx="406.5" cy="2304.4" r="10.0" fill="#ff96e6"/><circle cx="470" cy="2377.7" r="10.0" fill="#ff96e6"/><circle cx="536.2" cy="2360.3" r="10.0" fill="#ff96e6"/><circle cx="598.8" cy="2368.7" r="10.0" fill="#ff96e6"/><circle cx="661.5" cy="2359.3" r="10.0" fill="#ff96e6"/><circle cx="727.7" cy="2099.1" r="10.0" fill="#ff96e6"/></g>
<g><polyline points="406.5,2304.4 470,2297 536.2,2319.1 598.8,2274 661.5,2274 727.7,2277.7 790.7,2313.5 853.5,2305.1 919.5,2305.1 982,2301.9 1045,2280.4 1110,2294.1 1173.8,2329.4" stroke="#3c8c14" stroke-width="5.0" fill="none" stroke-linejoin="round"/><circle cx="406.5" cy="2304.4" r="8.8" fill="#22a81c" stroke="#3c8c14" stroke-width="2.4"/><circle cx="470" cy="2297" r="8.8" fill="#22a81c" stroke="#3c8c14" stroke-width="2.4"/><circle cx="536.2" cy="2319.1" r="8.8" fill="#22a81c" stroke="#3c8c14" stroke-width="2.4"/><circle cx="598.8" cy="2274" r="8.8" fill="#22a81c" stroke="#3c8c14" stroke-width="2.4"/><circle cx="661.5" cy="2274" r="8.8" fill="#22a81c" stroke="#3c8c14" stroke-width="2.4"/><circle cx="727.7" cy="2277.7" r="8.8" fill="#22a81c" stroke="#3c8c14" stroke-width="2.4"/><circle cx="790.7" cy="2313.5" r="8.8" fill="#22a81c" stroke="#3c8c14" stroke-width="2.4"/><circle cx="853.5" cy="2305.1" r="8.8" fill="#22a81c" stroke="#3c8c14" stroke-width="2.4"/><circle cx="919.5" cy="2305.1" r="8.8" fill="#22a81c" stroke="#3c8c14" stroke-width="2.4"/><circle cx="982" cy="2301.9" r="8.8" fill="#22a81c" stroke="#3c8c14" stroke-width="2.4"/><circle cx="1045" cy="2280.4" r="8.8" fill="#22a81c" stroke="#3c8c14" stroke-width="2.4"/><circle cx="1110" cy="2294.1" r="8.8" fill="#22a81c" stroke="#3c8c14" stroke-width="2.4"/><circle cx="1173.8" cy="2329.4" r="8.8" fill="#22a81c" stroke="#3c8c14" stroke-width="2.4"/></g>
<g><polyline points="406.5,2304.4 470,2297 536.2,2180 598.8,1960.7" stroke="#e43af8" stroke-width="5.0" fill="none" stroke-linejoin="round"/><circle cx="406.5" cy="2304.4" r="10.0" fill="#e43af8"/><circle cx="470" cy="2297" r="10.0" fill="#e43af8"/><circle cx="536.2" cy="2180" r="10.0" fill="#e43af8"/><circle cx="598.8" cy="1960.7" r="10.0" fill="#e43af8"/></g>
<g><polyline points="406.5,2304.4 470,2294.6 536.2,2252.9 598.8,2213.9 661.5,2200.4 727.7,2235.2 790.7,2190.1" stroke="#e00a0a" stroke-width="5.0" fill="none" stroke-linejoin="round"/><circle cx="406.5" cy="2304.4" r="10.0" fill="#e00a0a"/><circle cx="470" cy="2294.6" r="10.0" fill="#e00a0a"/><circle cx="536.2" cy="2252.9" r="10.0" fill="#e00a0a"/><circle cx="598.8" cy="2213.9" r="10.0" fill="#e00a0a"/><circle cx="661.5" cy="2200.4" r="10.0" fill="#e00a0a"/><circle cx="727.7" cy="2235.2" r="10.0" fill="#e00a0a"/><circle cx="790.7" cy="2190.1" r="10.0" fill="#e00a0a"/></g>
<g><polyline points="406.5,2304.4 470,2304.4 536.2,2294.1 598.8,2286 661.5,2312.5 727.7,2313.5 790.7,2317.2 853.5,2340.2 919.5,2380.7 982,2389.3" stroke="#64f014" stroke-width="5.0" fill="none" stroke-linejoin="round"/><circle cx="406.5" cy="2304.4" r="10.0" fill="#64f014"/><circle cx="470" cy="2304.4" r="10.0" fill="#64f014"/><circle cx="536.2" cy="2294.1" r="10.0" fill="#64f014"/><circle cx="598.8" cy="2286" r="10.0" fill="#64f014"/><circle cx="661.5" cy="2312.5" r="10.0" fill="#64f014"/><circle cx="727.7" cy="2313.5" r="10.0" fill="#64f014"/><circle cx="790.7" cy="2317.2" r="10.0" fill="#64f014"/><circle cx="853.5" cy="2340.2" r="10.0" fill="#64f014"/><circle cx="919.5" cy="2380.7" r="10.0" fill="#64f014"/><circle cx="982" cy="2389.3" r="10.0" fill="#64f014"/></g>
<g><line x1="470" y1="2487.9" x2="727.7" y2="2487.9" stroke="#a8d8f0" stroke-width="3.6" stroke-dasharray="10.5 3.3"/><polyline points="727.7,2487.9 790.7,2517.3" stroke="#a8d8f0" stroke-width="2.8" fill="none"/><polyline points="406.5,2304.4 470,2488.9" stroke="#80c8f8" stroke-width="5.0" fill="none" stroke-linejoin="round"/><polyline points="790.7,2517.3 853.5,2542.3 919.5,2523.7" stroke="#80c8f8" stroke-width="5.0" fill="none" stroke-linejoin="round"/><circle cx="406.5" cy="2304.4" r="10.0" fill="#80c8f8"/><circle cx="470" cy="2488.9" r="10.0" fill="#80c8f8"/><circle cx="790.7" cy="2517.3" r="10.0" fill="#80c8f8"/><circle cx="853.5" cy="2542.3" r="10.0" fill="#80c8f8"/><circle cx="919.5" cy="2523.7" r="10.0" fill="#80c8f8"/></g>
<g><polyline points="406.5,2304.4 470,2295.1 536.2,2262 598.8,2233.3" stroke="#fa0a98" stroke-width="5.0" fill="none" stroke-linejoin="round"/><circle cx="406.5" cy="2304.4" r="10.0" fill="#fa0a98"/><circle cx="470" cy="2295.1" r="10.0" fill="#fa0a98"/><circle cx="536.2" cy="2262" r="10.0" fill="#fa0a98"/><circle cx="598.8" cy="2233.3" r="10.0" fill="#fa0a98"/></g>
<g><polyline points="406.5,2304.4 470,2332.9 536.2,2335.6 598.8,2322.8 661.5,2342.9 727.7,2354 790.7,2347.6 853.5,2385.1 919.5,2401.8 982,2498.9" stroke="#2360f0" stroke-width="5.0" fill="none" stroke-linejoin="round"/><circle cx="406.5" cy="2304.4" r="10.0" fill="#2360f0"/><circle cx="470" cy="2332.9" r="10.0" fill="#2360f0"/><circle cx="536.2" cy="2335.6" r="10.0" fill="#2360f0"/><circle cx="598.8" cy="2322.8" r="10.0" fill="#2360f0"/><circle cx="661.5" cy="2342.9" r="10.0" fill="#2360f0"/><circle cx="727.7" cy="2354" r="10.0" fill="#2360f0"/><circle cx="790.7" cy="2347.6" r="10.0" fill="#2360f0"/><circle cx="853.5" cy="2385.1" r="10.0" fill="#2360f0"/><circle cx="919.5" cy="2401.8" r="10.0" fill="#2360f0"/><circle cx="982" cy="2498.9" r="10.0" fill="#2360f0"/></g>
<line x1="329.7" y1="2303.3" x2="1441.5" y2="2303.3" stroke="#000" stroke-width="3.4"/>
<line x1="727.6" y1="1421.3" x2="727.6" y2="2548" stroke="#8a918f" stroke-width="3.1"/>
<text transform="matrix(1.015 0 0 1.032 383.67 2606)" font-size="28" stroke="#000" stroke-width="0.35">Pre</text>
<text transform="matrix(1.015 0 0 1.032 450.285 2606)" font-size="28" stroke="#000" stroke-width="0.35">2<tspan font-size="18" dy="-8">nd</tspan></text>
<text transform="matrix(1.015 0 0 1.032 515.985 2606)" font-size="28" stroke="#000" stroke-width="0.35">3<tspan font-size="18" dy="-8">rd</tspan></text>
<text transform="matrix(1.015 0 0 1.032 577.385 2606)" font-size="28" stroke="#000" stroke-width="0.35">4<tspan font-size="18" dy="-8">th</tspan></text>
<text transform="matrix(1.015 0 0 1.032 647.685 2606)" font-size="28" stroke="#000" stroke-width="0.35">5<tspan font-size="18" dy="-8">th</tspan></text>
<text transform="matrix(1.015 0 0 1.032 710.185 2606)" font-size="28" stroke="#000" stroke-width="0.35">6<tspan font-size="18" dy="-8">th</tspan></text>
<text transform="matrix(1.015 0 0 1.032 779.47 2606)" font-size="28" stroke="#000" stroke-width="0.35">1m</text>
<text transform="matrix(1.015 0 0 1.032 840.885 2606)" font-size="28" stroke="#000" stroke-width="0.35">2m</text>
<text transform="matrix(1.015 0 0 1.032 902.785 2606)" font-size="28" stroke="#000" stroke-width="0.35">3m</text>
<text transform="matrix(1.015 0 0 1.032 970.285 2606)" font-size="28" stroke="#000" stroke-width="0.35">6m</text>
<text transform="matrix(1.015 0 0 1.032 1031.985 2606)" font-size="28" stroke="#000" stroke-width="0.35">9m</text>
<text transform="matrix(1.015 0 0 1.032 1094.37 2606)" font-size="28" stroke="#000" stroke-width="0.35">12m</text>
<text transform="matrix(1.015 0 0 1.032 1164.07 2606)" font-size="28" stroke="#000" stroke-width="0.35">15m</text>
<text transform="matrix(1.015 0 0 1.032 1226.27 2606)" font-size="28" stroke="#000" stroke-width="0.35">18m</text>
<text transform="matrix(1.015 0 0 1.032 1294.685 2606)" font-size="28" stroke="#000" stroke-width="0.35">21m</text>
<text transform="matrix(1.015 0 0 1.032 1364.585 2606)" font-size="28" stroke="#000" stroke-width="0.35">24m</text>
<text transform="matrix(1.016 0 0 0.96 364.784 2705.1)" font-size="48" stroke="#000" stroke-width="0.35">Treatment Period</text>
<text transform="matrix(1.019 0 0 0.962 916.925 2704.378)" font-size="48" stroke="#000" stroke-width="0.35">Follow-up Period</text>
<text transform="matrix(0 -1.016 1.02 0 158.5 2325.466)" font-size="48" stroke="#000" stroke-width="0.35">Rate of tumor growth (multiplier)</text>
<line x1="1575.5" y1="1483.2" x2="1642" y2="1483.2" stroke="#4088f2" stroke-width="4.5" stroke-linecap="round"/>
<circle cx="1607.3" cy="1483.2" r="9.9" fill="#4088f2"/>
<text transform="matrix(1.058 0 0 1.125 1649.1 1496.7)" font-size="30" stroke="#000" stroke-width="0.35">#1</text>
<line x1="1575.5" y1="1541.3" x2="1642" y2="1541.3" stroke="#f57828" stroke-width="4.5" stroke-linecap="round"/>
<circle cx="1607.3" cy="1541.3" r="9.9" fill="#f57828"/>
<text transform="matrix(1.058 0 0 1.125 1649.1 1554.8)" font-size="30" stroke="#000" stroke-width="0.35">#2</text>
<line x1="1575.5" y1="1599.4" x2="1642" y2="1599.4" stroke="#aeb8b8" stroke-width="4.5" stroke-linecap="round"/>
<circle cx="1607.3" cy="1599.4" r="9.9" fill="#aeb8b8"/>
<text transform="matrix(1.058 0 0 1.125 1649.1 1612.9)" font-size="30" stroke="#000" stroke-width="0.35">#3</text>
<line x1="1575.5" y1="1657.5" x2="1642" y2="1657.5" stroke="#ffc50a" stroke-width="4.5" stroke-linecap="round"/>
<circle cx="1607.3" cy="1657.5" r="9.9" fill="#ffc50a"/>
<text transform="matrix(1.058 0 0 1.125 1649.1 1671)" font-size="30" stroke="#000" stroke-width="0.35">#4</text>
<line x1="1575.5" y1="1715.6" x2="1642" y2="1715.6" stroke="#6eb9f5" stroke-width="4.5" stroke-linecap="round"/>
<circle cx="1607.3" cy="1715.6" r="9.9" fill="#6eb9f5"/>
<text transform="matrix(1.058 0 0 1.125 1649.1 1729.1)" font-size="30" stroke="#000" stroke-width="0.35">#5</text>
<line x1="1575.5" y1="1773.7" x2="1642" y2="1773.7" stroke="#78e132" stroke-width="4.5" stroke-linecap="round"/>
<circle cx="1607.3" cy="1773.7" r="9.9" fill="#78e132"/>
<text transform="matrix(1.058 0 0 1.125 1649.1 1787.2)" font-size="30" stroke="#000" stroke-width="0.35">#6</text>
<line x1="1575.5" y1="1831.8" x2="1642" y2="1831.8" stroke="#80f0dc" stroke-width="4.5" stroke-linecap="round"/>
<circle cx="1607.3" cy="1831.8" r="9.9" fill="#80f0dc"/>
<text transform="matrix(1.058 0 0 1.125 1649.1 1845.3)" font-size="30" stroke="#000" stroke-width="0.35">#7</text>
<line x1="1575.5" y1="1889.9" x2="1642" y2="1889.9" stroke="#b0440f" stroke-width="4.5" stroke-linecap="round"/>
<circle cx="1607.3" cy="1889.9" r="9.9" fill="#a53c0a"/>
<text transform="matrix(1.058 0 0 1.125 1649.1 1903.4)" font-size="30" stroke="#000" stroke-width="0.35">#8</text>
<line x1="1575.5" y1="1948" x2="1642" y2="1948" stroke="#697376" stroke-width="4.5" stroke-linecap="round"/>
<circle cx="1607.3" cy="1948" r="9.9" fill="#626c6f"/>
<text transform="matrix(1.058 0 0 1.125 1649.1 1961.5)" font-size="30" stroke="#000" stroke-width="0.35">#9</text>
<line x1="1575.5" y1="2006.1" x2="1642" y2="2006.1" stroke="#98780a" stroke-width="4.5" stroke-linecap="round"/>
<circle cx="1607.3" cy="2006.1" r="9.9" fill="#8e7202"/>
<text transform="matrix(1.058 0 0 1.125 1649.1 2019.6)" font-size="30" stroke="#000" stroke-width="0.35">#10</text>
<line x1="1575.5" y1="2064.2" x2="1642" y2="2064.2" stroke="#5c0ad0" stroke-width="4.5" stroke-linecap="round"/>
<circle cx="1607.3" cy="2064.2" r="9.9" fill="#4800a8"/>
<text transform="matrix(1.058 0 0 1.125 1649.1 2077.7)" font-size="30" stroke="#000" stroke-width="0.35">#11</text>
<line x1="1575.5" y1="2122.3" x2="1642" y2="2122.3" stroke="#ff96e6" stroke-width="4.5" stroke-linecap="round"/>
<circle cx="1607.3" cy="2122.3" r="9.9" fill="#ff96e6"/>
<text transform="matrix(1.058 0 0 1.125 1649.1 2135.8)" font-size="30" stroke="#000" stroke-width="0.35">#12</text>
<text transform="matrix(1.02 0 0 0.95 1704.08 2134.3)" font-size="30" stroke="#000" stroke-width="0.35">*</text>
<line x1="1575.5" y1="2180.4" x2="1642" y2="2180.4" stroke="#3c8c14" stroke-width="4.5" stroke-linecap="round"/>
<circle cx="1607.3" cy="2180.4" r="9.9" fill="#22a81c" stroke="#3c8c14" stroke-width="2.5"/>
<text transform="matrix(1.058 0 0 1.125 1649.1 2193.9)" font-size="30" stroke="#000" stroke-width="0.35">#13</text>
<line x1="1575.5" y1="2238.5" x2="1642" y2="2238.5" stroke="#e43af8" stroke-width="4.5" stroke-linecap="round"/>
<circle cx="1607.3" cy="2238.5" r="9.9" fill="#e43af8"/>
<text transform="matrix(1.058 0 0 1.125 1649.1 2252)" font-size="30" stroke="#000" stroke-width="0.35">#14</text>
<text transform="matrix(1.02 0 0 0.95 1704.08 2250.5)" font-size="30" stroke="#000" stroke-width="0.35">*</text>
<line x1="1575.5" y1="2296.6" x2="1642" y2="2296.6" stroke="#e00a0a" stroke-width="4.5" stroke-linecap="round"/>
<circle cx="1607.3" cy="2296.6" r="9.9" fill="#e00a0a"/>
<text transform="matrix(1.058 0 0 1.125 1649.1 2310.1)" font-size="30" stroke="#000" stroke-width="0.35">#15</text>
<text transform="matrix(1.02 0 0 0.95 1704.08 2308.6)" font-size="30" stroke="#000" stroke-width="0.35">*</text>
<line x1="1575.5" y1="2354.7" x2="1642" y2="2354.7" stroke="#64f014" stroke-width="4.5" stroke-linecap="round"/>
<circle cx="1607.3" cy="2354.7" r="9.9" fill="#64f014"/>
<text transform="matrix(1.058 0 0 1.125 1649.1 2368.2)" font-size="30" stroke="#000" stroke-width="0.35">#16</text>
<line x1="1575.5" y1="2412.8" x2="1642" y2="2412.8" stroke="#80c8f8" stroke-width="4.5" stroke-linecap="round"/>
<circle cx="1607.3" cy="2412.8" r="9.9" fill="#80c8f8"/>
<text transform="matrix(1.058 0 0 1.125 1649.1 2426.3)" font-size="30" stroke="#000" stroke-width="0.35">#17</text>
<line x1="1575.5" y1="2470.9" x2="1642" y2="2470.9" stroke="#fa0a98" stroke-width="4.5" stroke-linecap="round"/>
<circle cx="1607.3" cy="2470.9" r="9.9" fill="#fa0a98"/>
<text transform="matrix(1.058 0 0 1.125 1649.1 2484.4)" font-size="30" stroke="#000" stroke-width="0.35">#18</text>
<text transform="matrix(1.02 0 0 0.95 1704.08 2482.9)" font-size="30" stroke="#000" stroke-width="0.35">*</text>
<line x1="1575.5" y1="2529" x2="1642" y2="2529" stroke="#2360f0" stroke-width="4.5" stroke-linecap="round"/>
<circle cx="1607.3" cy="2529" r="9.9" fill="#2360f0"/>
<text transform="matrix(1.058 0 0 1.125 1649.1 2542.5)" font-size="30" stroke="#000" stroke-width="0.35">#19</text>
</svg></body></html>
